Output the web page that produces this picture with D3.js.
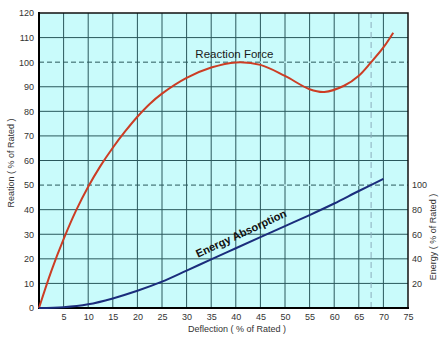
<!DOCTYPE html>
<html>
<head>
<meta charset="utf-8">
<script src="https://cdn.jsdelivr.net/npm/d3@7"></script>
<style>
  body { margin: 0; background: #fff; }
  text { font-family: Arial, "Liberation Sans", sans-serif; }
</style>
</head>
<body>
<svg id="chart" width="447" height="340"></svg>
<script>
// deflection (% of rated) vs reaction (% of rated)
var reactionX = [0, 2.5, 5, 7.5, 10, 12.5, 15, 17.5, 20, 22.5, 25, 30, 35, 40, 45, 50, 55, 58, 62, 65, 67.5, 70, 72]
var reactionY = [0, 15, 28, 39.5, 49.3, 57.8, 65.2, 71.8, 77.8, 83, 87.2, 93.6, 97.8, 99.9, 98.9, 94.4, 89, 87.9, 90.4, 94.5, 100, 106, 112]

// deflection vs energy absorption (% of rated, right axis)
var energyX = [0, 5, 10, 15, 20, 25, 30, 35, 40, 45, 50, 55, 60, 65, 70]
var energyY = [0, 0.6, 3, 7.8, 14, 21.4, 30.4, 39.6, 48.6, 57.6, 66.6, 75.6, 85, 95.2, 105]

var xTicks = [5, 10, 15, 20, 25, 30, 35, 40, 45, 50, 55, 60, 65, 70, 75]
var yTicks = [0, 10, 20, 30, 40, 50, 60, 70, 80, 90, 100, 110, 120]
var energyTicks = [20, 40, 60, 80, 100]
var dashedY = [50, 100]
var ratedDeflection = 67.5

var svg = d3.select('#chart')
var margin = {left: 39, top: 13, right: 39, bottom: 32}
var width = 447 - margin.left - margin.right
var height = 340 - margin.top - margin.bottom

var x = d3.scaleLinear().domain([0, 75]).range([margin.left, margin.left + width])
var y = d3.scaleLinear().domain([0, 120]).range([margin.top + height, margin.top])
var yE = d3.scaleLinear().domain([0, 240]).range([margin.top + height, margin.top])

var gridColor = '#2a585c'
var bg = '#c9fbfb'

svg.append('rect')
    .attr('x', x(0)).attr('y', y(120))
    .attr('width', width).attr('height', height)
    .attr('fill', bg)

// grid
svg.append('g').selectAll('line')
    .data(xTicks.filter(function (d) { return d < 75 }))
    .enter().append('line')
      .attr('x1', function (d) { return x(d) }).attr('x2', function (d) { return x(d) })
      .attr('y1', y(0)).attr('y2', y(120))
      .attr('stroke', gridColor).attr('stroke-width', 1)

svg.append('g').selectAll('line')
    .data(yTicks.filter(function (d) { return d > 0 && d < 120 }))
    .enter().append('line')
      .attr('x1', x(0)).attr('x2', x(75))
      .attr('y1', function (d) { return y(d) }).attr('y2', function (d) { return y(d) })
      .attr('stroke', gridColor).attr('stroke-width', 1)
      .attr('stroke-dasharray', function (d) { return dashedY.indexOf(d) >= 0 ? '5,3' : null })

// clear the background under the dashed lines so the gaps show
svg.append('g').selectAll('line')
    .data(dashedY)
    .enter().append('line')
      .attr('x1', x(0)).attr('x2', x(75))
      .attr('y1', function (d) { return y(d) }).attr('y2', function (d) { return y(d) })
      .attr('stroke', bg).attr('stroke-width', 1.2)
      .attr('stroke-dasharray', '0,5,3,0')

svg.append('line')
    .attr('x1', x(ratedDeflection)).attr('x2', x(ratedDeflection))
    .attr('y1', y(0)).attr('y2', y(120))
    .attr('stroke', '#8aaebc').attr('stroke-width', 1)
    .attr('stroke-dasharray', '6,4')

// frame
svg.append('rect')
    .attr('x', x(0)).attr('y', y(120))
    .attr('width', width).attr('height', height)
    .attr('fill', 'none').attr('stroke', '#111').attr('stroke-width', 1.5)
svg.append('line')
    .attr('x1', x(0)).attr('x2', x(0)).attr('y1', y(0) + 1).attr('y2', y(120) - 1)
    .attr('stroke', '#000').attr('stroke-width', 2)
svg.append('line')
    .attr('x1', x(0) - 1).attr('x2', x(75) + 1).attr('y1', y(0)).attr('y2', y(0))
    .attr('stroke', '#000').attr('stroke-width', 2)

// curves
var reactionPts = reactionX.map(function (d, i) { return [d, reactionY[i]] })
var energyPts = energyX.map(function (d, i) { return [d, energyY[i]] })

var reactionLine = d3.line()
    .x(function (d) { return x(d[0]) })
    .y(function (d) { return y(d[1]) })
    .curve(d3.curveCatmullRom.alpha(0.5))
var energyLine = d3.line()
    .x(function (d) { return x(d[0]) })
    .y(function (d) { return yE(d[1]) })
    .curve(d3.curveCatmullRom.alpha(0.5))

svg.append('path').datum(reactionPts)
    .attr('d', reactionLine)
    .attr('fill', 'none').attr('stroke', '#cc3d24').attr('stroke-width', 2)
svg.append('path').datum(energyPts)
    .attr('d', energyLine)
    .attr('fill', 'none').attr('stroke', '#1b2d7c').attr('stroke-width', 2)

// axes
var tickFont = function (g) {
  g.select('.domain').remove()
  g.selectAll('text').attr('fill', '#333').style('font-size', '9px')
}
svg.append('g')
    .attr('transform', 'translate(' + x(0) + ',0)')
    .call(d3.axisLeft(y).tickValues(yTicks).tickSize(0).tickPadding(5))
    .call(tickFont)
svg.append('g')
    .attr('transform', 'translate(0,' + y(0) + ')')
    .call(d3.axisBottom(x).tickValues(xTicks).tickSize(0).tickPadding(6))
    .call(tickFont)
svg.append('g')
    .attr('transform', 'translate(' + x(75) + ',0)')
    .call(d3.axisRight(yE).tickValues(energyTicks).tickSize(0).tickPadding(4))
    .call(tickFont)

// titles
svg.append('text')
    .attr('transform', 'translate(14,' + 163 + ') rotate(-90)')
    .attr('text-anchor', 'middle')
    .attr('fill', '#333').style('font-size', '9px')
    .text('Reation ( % of Rated )')
svg.append('text')
    .attr('transform', 'translate(436,' + 237 + ') rotate(-90)')
    .attr('text-anchor', 'middle')
    .attr('fill', '#333').style('font-size', '9px')
    .text('Energy ( % of Rated )')
svg.append('text')
    .attr('x', 237).attr('y', 332)
    .attr('text-anchor', 'middle')
    .attr('fill', '#333').style('font-size', '9px')
    .text('Deflection ( % of Rated )')

svg.append('text')
    .attr('x', x(39.7)).attr('y', y(101.8))
    .attr('text-anchor', 'middle')
    .attr('fill', '#1a1a1a').style('font-size', '11.5px')
    .text('Reaction Force')
svg.append('text')
    .attr('transform', 'translate(' + x(41.4) + ',' + (y(28.9)) + ') rotate(-25)')
    .attr('text-anchor', 'middle')
    .attr('fill', '#111').style('font-size', '11px').style('font-weight', 'bold')
    .text('Energy Absorption')
</script>
</body>
</html>
